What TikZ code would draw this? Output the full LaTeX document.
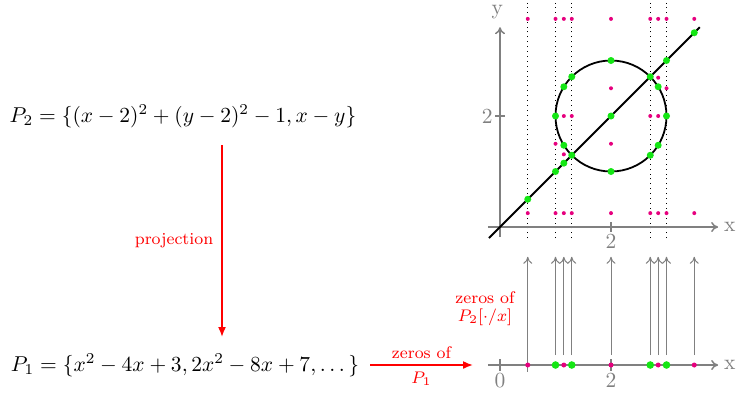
\RequirePackage{fix-cm}
\documentclass[tikz,border=0pt]{standalone}
\usetikzlibrary{arrows.meta}
\definecolor{ptgreen}{RGB}{20,230,20}
\definecolor{ptpink}{RGB}{230,0,126}
\newcommand\mainsz{\fontsize{10.75pt}{13pt}\selectfont}
\newcommand\labsz{\fontsize{8.4pt}{10pt}\selectfont}
\begin{document}
\begin{tikzpicture}[x=0.5pt,y=-0.5pt]
\tikzset{
  every node/.append style={font=\mainsz},
  ax/.style={gray, line width=0.75pt},
  axarrow/.style={ax, -{To[length=3.5pt,width=5pt]}},
  uparrow/.style={gray, line width=0.5pt, -{To[length=3.5pt,width=4.5pt]}},
  redarrow/.style={red, line width=0.8pt, -{Latex[length=5pt,width=4pt]}},
  curve/.style={black, line width=0.9pt},
  vdot/.style={black, dotted, line width=0.45pt},
  gpt/.style={fill=ptgreen},
  mpt/.style={fill=ptpink},
  axlabel/.style={gray, inner sep=1pt},
  redtext/.style={red, font=\labsz},
  redlabel/.style={redtext, align=center, inner sep=2pt}
}
\useasboundingbox (0,0) rectangle (738,393);

% left side
\node (P2) at (183,116) {$P_2=\{(x-2)^2+(y-2)^2-1,x-y\}$};
\node (P1) at (185,365) {$P_1=\{x^2-4x+3,2x^2-8x+7,\dots\,\}$};
\coordinate (pa) at (222,145);
\coordinate (pb) at (222,337);
\draw[redarrow] (pa) -- node[redtext,left,pos=0.5,inner sep=4pt]{projection} (pb);
\coordinate (za) at (370,365);
\coordinate (zb) at (473,365);
\draw[redarrow] (za) -- node[redtext,above,inner sep=3pt]{zeros of} node[redtext,below,inner sep=3pt]{$P_1$} (zb);
\node[redlabel] (zl) at (485,309) {zeros of\\[-1pt]$P_2[\cdot/x]$};

% plane plot
\begin{scope}[shift={(500,227)}, x=27.75pt, y=27.75pt]
  \foreach \t in {0.5,1,1.2929,2.7071,3}
    \draw[vdot] (\t,-0.2) -- (\t,4.04);
  \draw[axarrow] (-0.22,0) -- (3.93,0);
  \node[axlabel] (lx) at (4.14,0) {x};
  \draw[axarrow] (0,-0.18) -- (0,3.6);
  \node[axlabel] (ly) at (-0.05,3.87) {y};
  \draw[ax] (2,-0.09) -- (2,0.09);
  \node[axlabel, below] (t2x) at (2,-0.09) {2};
  \draw[ax] (-0.09,2) -- (0.09,2);
  \node[axlabel, left] (t2y) at (-0.09,2) {2};
  \draw[curve] (2,2) circle[radius=1];
  \draw[curve] (-0.2,-0.2) -- (3.6,3.6);
  % sector samples
  \foreach \t in {0.5,1,1.15,1.2929,2,2.7071,2.85,3,3.5} {
    \fill[mpt] (\t,0.25) circle[radius=1pt];
    \fill[mpt] (\t,3.75) circle[radius=1pt];
  }
  \foreach \p in {(1,1.5),(1.15,1.31),(1.15,2),(1.2929,2),(2,1.5),(2,2.5),(2.7071,2),(2.85,2),(2.85,2.69),(3,2.5)}
    \fill[mpt] \p circle[radius=1pt];
  % section points
  \foreach \p in {(0.5,0.5),(1,1),(1,2),(1.15,1.15),(1.15,1.473),(1.15,2.527),(1.2929,1.2929),(1.2929,2.7071),(2,1),(2,2),(2,3),(2.7071,1.2929),(2.7071,2.7071),(2.85,1.473),(2.85,2.527),(3,2),(3,3),(3.5,3.5)}
    \fill[gpt] \p circle[radius=1.75pt];
\end{scope}

% line plot
\begin{scope}[shift={(500,365)}, x=27.75pt, y=27.75pt]
  \foreach \t in {0.5,1,1.15,1.2929,2,2.7071,2.85,3,3.5}
    \draw[uparrow] (\t,0.18) -- (\t,1.95);
  \draw[axarrow] (-0.22,0) -- (3.93,0);
  \node[axlabel] (lx2) at (4.14,0) {x};
  \draw[ax] (0,-0.11) -- (0,0.11);
  \node[axlabel, below] (t0) at (0,-0.11) {0};
  \draw[ax] (2,-0.11) -- (2,0.11);
  \node[axlabel, below] (t2) at (2,-0.11) {2};
  \draw[gray, line width=0.5pt] (0.5,-0.12) -- (0.5,0.18);
  \foreach \t in {0.5,1.15,2,2.85,3.5}
    \fill[mpt] (\t,0) circle[radius=1.25pt];
  \foreach \t in {1,1.2929,2.7071,3}
    \fill[gpt] (\t,0) circle[radius=1.9pt];
\end{scope}
\end{tikzpicture}
\end{document}
